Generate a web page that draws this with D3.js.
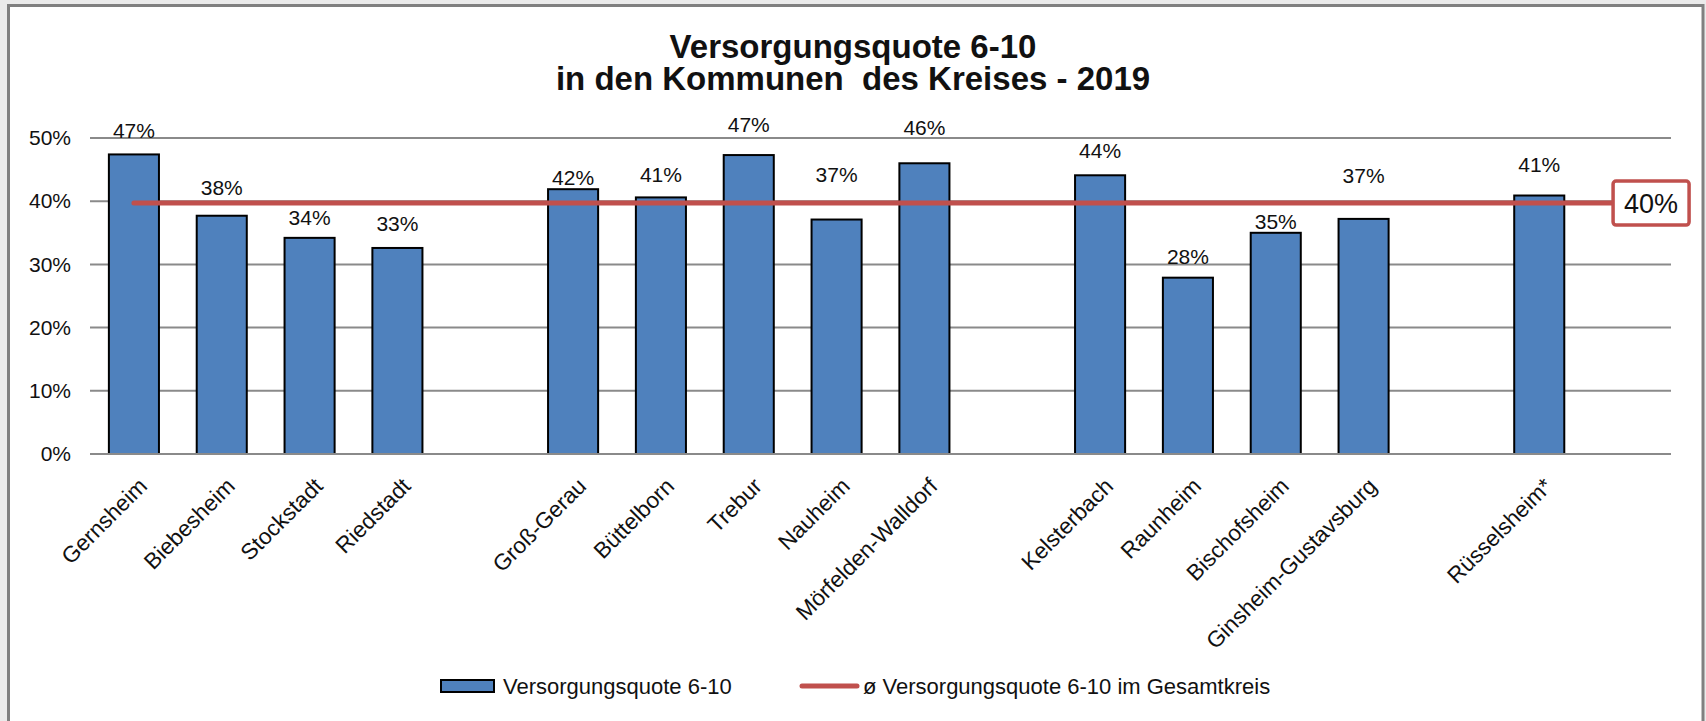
<!DOCTYPE html>
<html>
<head>
<meta charset="utf-8">
<script src="https://cdn.jsdelivr.net/npm/d3@7/dist/d3.min.js"></script>
<style>
  html, body { margin: 0; padding: 0; background: #ebebeb; }
  svg { display: block; }
  text { font-family: "Liberation Sans", Arial, sans-serif; fill: #111; }
</style>
</head>
<body>
<svg id="chart" width="1706" height="721"></svg>
<script>
// ---- data ----
const titleLines = ["Versorgungsquote 6-10", "in den Kommunen  des Kreises - 2019"];
const categories = ["Gernsheim", "Biebesheim", "Stockstadt", "Riedstadt", "",
  "Groß-Gerau", "Büttelborn", "Trebur", "Nauheim", "Mörfelden-Walldorf", "",
  "Kelsterbach", "Raunheim", "Bischofsheim", "Ginsheim-Gustavsburg", "",
  "Rüsselsheim*", ""];
const values = [47.4, 37.7, 34.2, 32.6, null,
  41.9, 40.6, 47.3, 37.1, 46.0, null,
  44.1, 27.9, 35.0, 37.2, null,
  40.9, null];
const labelLift = [16, 21, 13, 17, 0,
  4, 15, 23, 38, 28, 0,
  17, 14, 4, 36, 0,
  24, 0];
const average = 39.7;
const yTicks = [0, 10, 20, 30, 40, 50];
const seriesNames = ["Versorgungsquote 6-10", "ø Versorgungsquote 6-10 im Gesamtkreis"];

// ---- layout ----
const svg = d3.select("#chart");
const plot = { left: 90, right: 1671, top: 138, bottom: 454 };
const barColor = "#4F81BD";
const lineColor = "#C0504D";
const gridColor = "#8a8a8a";

// frame
svg.append("rect").attr("x", 8.5).attr("y", 5.5).attr("width", 1694.5).attr("height", 740)
  .attr("fill", "#fff").attr("stroke", "#808080").attr("stroke-width", 3);

const x = d3.scaleBand().domain(d3.range(categories.length))
  .range([plot.left, plot.right]).paddingInner(0.43).paddingOuter(0.215);
const y = d3.scaleLinear().domain([0, 50]).range([plot.bottom, plot.top]);

// title (one text, two lines)
const title = svg.append("text").attr("text-anchor", "middle")
  .style("font-size", "33px").style("font-weight", "bold")
  .attr("xml:space", "preserve").style("white-space", "pre");
title.selectAll("tspan").data(titleLines).join("tspan")
  .attr("x", 853).attr("y", (d, i) => 58 + i * 32).text(d => d);

// y axis grid + labels
const yAxis = d3.axisLeft(y).tickValues(yTicks).tickSize(0).tickPadding(19)
  .tickFormat(d => d + "%");
const gy = svg.append("g").attr("transform", `translate(${plot.left},0)`).call(yAxis);
gy.select(".domain").remove();
gy.selectAll("text").style("font-size", "21px").attr("fill", "#111");
svg.append("g").selectAll("line").data(yTicks).join("line")
  .attr("x1", plot.left).attr("x2", plot.right)
  .attr("y1", d => y(d)).attr("y2", d => y(d))
  .attr("stroke", gridColor).attr("stroke-width", 2);

// bars
const barData = values.map((v, i) => ({ i, v })).filter(d => d.v !== null);
svg.append("g").selectAll("rect").data(barData).join("rect")
  .attr("x", d => x(d.i)).attr("width", x.bandwidth())
  .attr("y", d => y(d.v)).attr("height", d => y(0) - y(d.v))
  .attr("fill", barColor).attr("stroke", "#000").attr("stroke-width", 2);

// axis line redraw on top
svg.append("line").attr("x1", plot.left).attr("x2", plot.right)
  .attr("y1", y(0)).attr("y2", y(0)).attr("stroke", gridColor).attr("stroke-width", 2);

// data labels
svg.append("g").selectAll("text").data(barData).join("text")
  .attr("x", d => x(d.i) + x.bandwidth() / 2)
  .attr("y", d => y(d.v) - labelLift[d.i])
  .attr("text-anchor", "middle").style("font-size", "21px")
  .text(d => Math.round(d.v) + "%");

// category labels
const xAxis = d3.axisBottom(x).tickSize(0).tickFormat(i => categories[i]);
const gx = svg.append("g").attr("transform", `translate(0,${plot.bottom})`).call(xAxis);
gx.select(".domain").remove();
gx.selectAll("text")
  .style("font-size", "22.5px").attr("fill", "#111")
  .attr("text-anchor", "end")
  .attr("dy", "0.35em")
  .attr("transform", "translate(9,28) rotate(-45)")
  .attr("y", 0).attr("x", 0);

// average line
const first = 0, last = categories.length - 1;
svg.append("line")
  .attr("x1", x(first) + x.bandwidth() / 2).attr("x2", x(last) + x.bandwidth() / 2)
  .attr("y1", y(average)).attr("y2", y(average))
  .attr("stroke", lineColor).attr("stroke-width", 5).attr("stroke-linecap", "round");

// average label box
const bx = x(last) + x.bandwidth() / 2 - 14;
svg.append("rect").attr("x", bx).attr("y", y(average) - 22).attr("width", 76).attr("height", 44)
  .attr("rx", 3).attr("fill", "#fff").attr("stroke", lineColor).attr("stroke-width", 3.5);
svg.append("text").attr("x", bx + 38).attr("y", y(average) + 10).attr("text-anchor", "middle")
  .style("font-size", "27px").text(Math.round(average) + "%");

// legend
const lg = svg.append("g");
lg.append("rect").attr("x", 441).attr("y", 680).attr("width", 53).attr("height", 12)
  .attr("fill", barColor).attr("stroke", "#000").attr("stroke-width", 2);
lg.append("text").attr("x", 503).attr("y", 693.5).style("font-size", "22px").text(seriesNames[0]);
lg.append("line").attr("x1", 802).attr("x2", 857).attr("y1", 686).attr("y2", 686)
  .attr("stroke", lineColor).attr("stroke-width", 5).attr("stroke-linecap", "round");
lg.append("text").attr("x", 863).attr("y", 693.5).style("font-size", "22px").text(seriesNames[1]);
</script>
</body>
</html>
